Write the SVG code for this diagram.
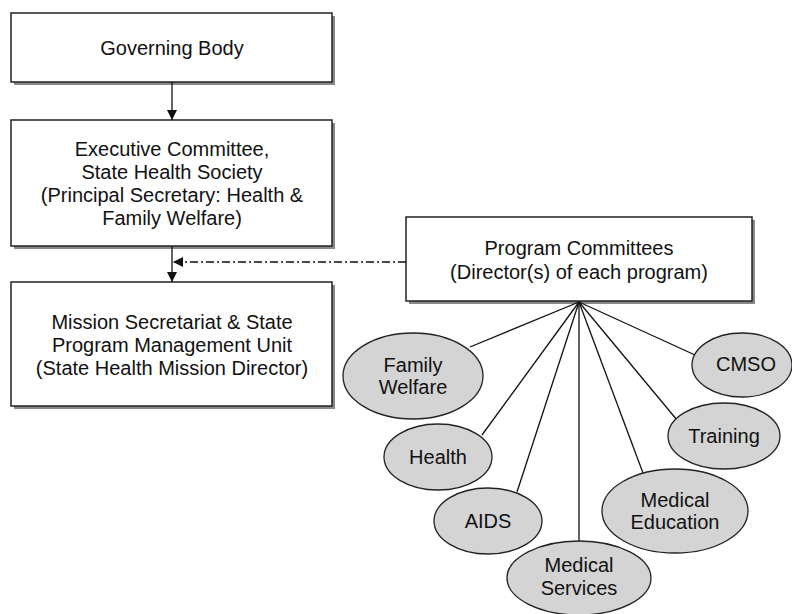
<svg xmlns="http://www.w3.org/2000/svg" width="792" height="614" viewBox="0 0 792 614">
<defs>
<style>
.box{fill:#fff;stroke:#222;stroke-width:1.5}
.sh{fill:#888}
.ell{fill:#d4d4d4;stroke:#222;stroke-width:1.3}
.t{font-family:"Liberation Sans",Arial,sans-serif;font-size:20px;fill:#111;text-anchor:middle;dominant-baseline:central}
.ln{stroke:#111;stroke-width:1.3;fill:none}
</style>
<marker id="ah" viewBox="0 0 10 10" refX="10" refY="5" markerWidth="10" markerHeight="10" markerUnits="userSpaceOnUse" orient="auto"><path d="M0,0 L10,5 L0,10 z" fill="#111"/></marker>
</defs>
<rect width="792" height="614" fill="#fff"/>
<g id="governing-body">
<rect class="sh" x="14" y="16" width="321" height="69"/>
<rect class="box" x="11" y="13" width="321" height="69"/>
<text class="t" x="172" y="48">Governing Body</text>
</g>
<g id="executive-committee">
<rect class="sh" x="14" y="123" width="321" height="126"/>
<rect class="box" x="11" y="120" width="321" height="126"/>
<text class="t" x="172" y="149">Executive Committee,</text>
<text class="t" x="172" y="172">State Health Society</text>
<text class="t" x="172" y="195">(Principal Secretary: Health &amp;</text>
<text class="t" x="172" y="218">Family Welfare)</text>
</g>
<g id="mission-secretariat">
<rect class="sh" x="14" y="285" width="321" height="124"/>
<rect class="box" x="11" y="282" width="321" height="124"/>
<text class="t" x="172" y="322">Mission Secretariat &amp; State</text>
<text class="t" x="172" y="345">Program Management Unit</text>
<text class="t" x="172" y="368">(State Health Mission Director)</text>
</g>
<g id="program-committees">
<rect class="sh" x="409" y="220" width="346" height="84"/>
<rect class="box" x="406" y="217" width="346" height="84"/>
<text class="t" x="579" y="248">Program Committees</text>
<text class="t" x="579" y="272">(Director(s) of each program)</text>
</g>
<g id="connectors">
<line class="ln" x1="172" y1="82" x2="172" y2="120" marker-end="url(#ah)"/>
<line class="ln" x1="172" y1="246" x2="172" y2="282" marker-end="url(#ah)"/>
<line class="ln" x1="406" y1="262" x2="173" y2="262" stroke-dasharray="8,3,2,3" marker-end="url(#ah)"/>
<line class="ln" x1="579" y1="302" x2="470" y2="347"/>
<line class="ln" x1="579" y1="302" x2="482" y2="435"/>
<line class="ln" x1="579" y1="302" x2="517" y2="492"/>
<line class="ln" x1="579" y1="302" x2="579" y2="541"/>
<line class="ln" x1="579" y1="302" x2="643" y2="473"/>
<line class="ln" x1="579" y1="302" x2="677" y2="420"/>
<line class="ln" x1="579" y1="302" x2="695" y2="355"/>
</g>
<g id="family-welfare">
<ellipse class="ell" cx="413" cy="376" rx="70" ry="43"/>
<text class="t" x="413" y="365">Family</text>
<text class="t" x="413" y="387">Welfare</text>
</g>
<g id="health">
<ellipse class="ell" cx="438" cy="457" rx="54" ry="33"/>
<text class="t" x="438" y="457">Health</text>
</g>
<g id="aids">
<ellipse class="ell" cx="488" cy="521" rx="54" ry="33"/>
<text class="t" x="488" y="521">AIDS</text>
</g>
<g id="medical-services">
<ellipse class="ell" cx="579" cy="578" rx="72" ry="37"/>
<text class="t" x="579" y="565">Medical</text>
<text class="t" x="579" y="588">Services</text>
</g>
<g id="medical-education">
<ellipse class="ell" cx="675" cy="511" rx="73" ry="42"/>
<text class="t" x="675" y="500">Medical</text>
<text class="t" x="675" y="522">Education</text>
</g>
<g id="training">
<ellipse class="ell" cx="724" cy="436" rx="56" ry="33"/>
<text class="t" x="724" y="436">Training</text>
</g>
<g id="cmso">
<ellipse class="ell" cx="742" cy="365" rx="50" ry="32"/>
<text class="t" x="746" y="364">CMSO</text>
</g>
</svg>
